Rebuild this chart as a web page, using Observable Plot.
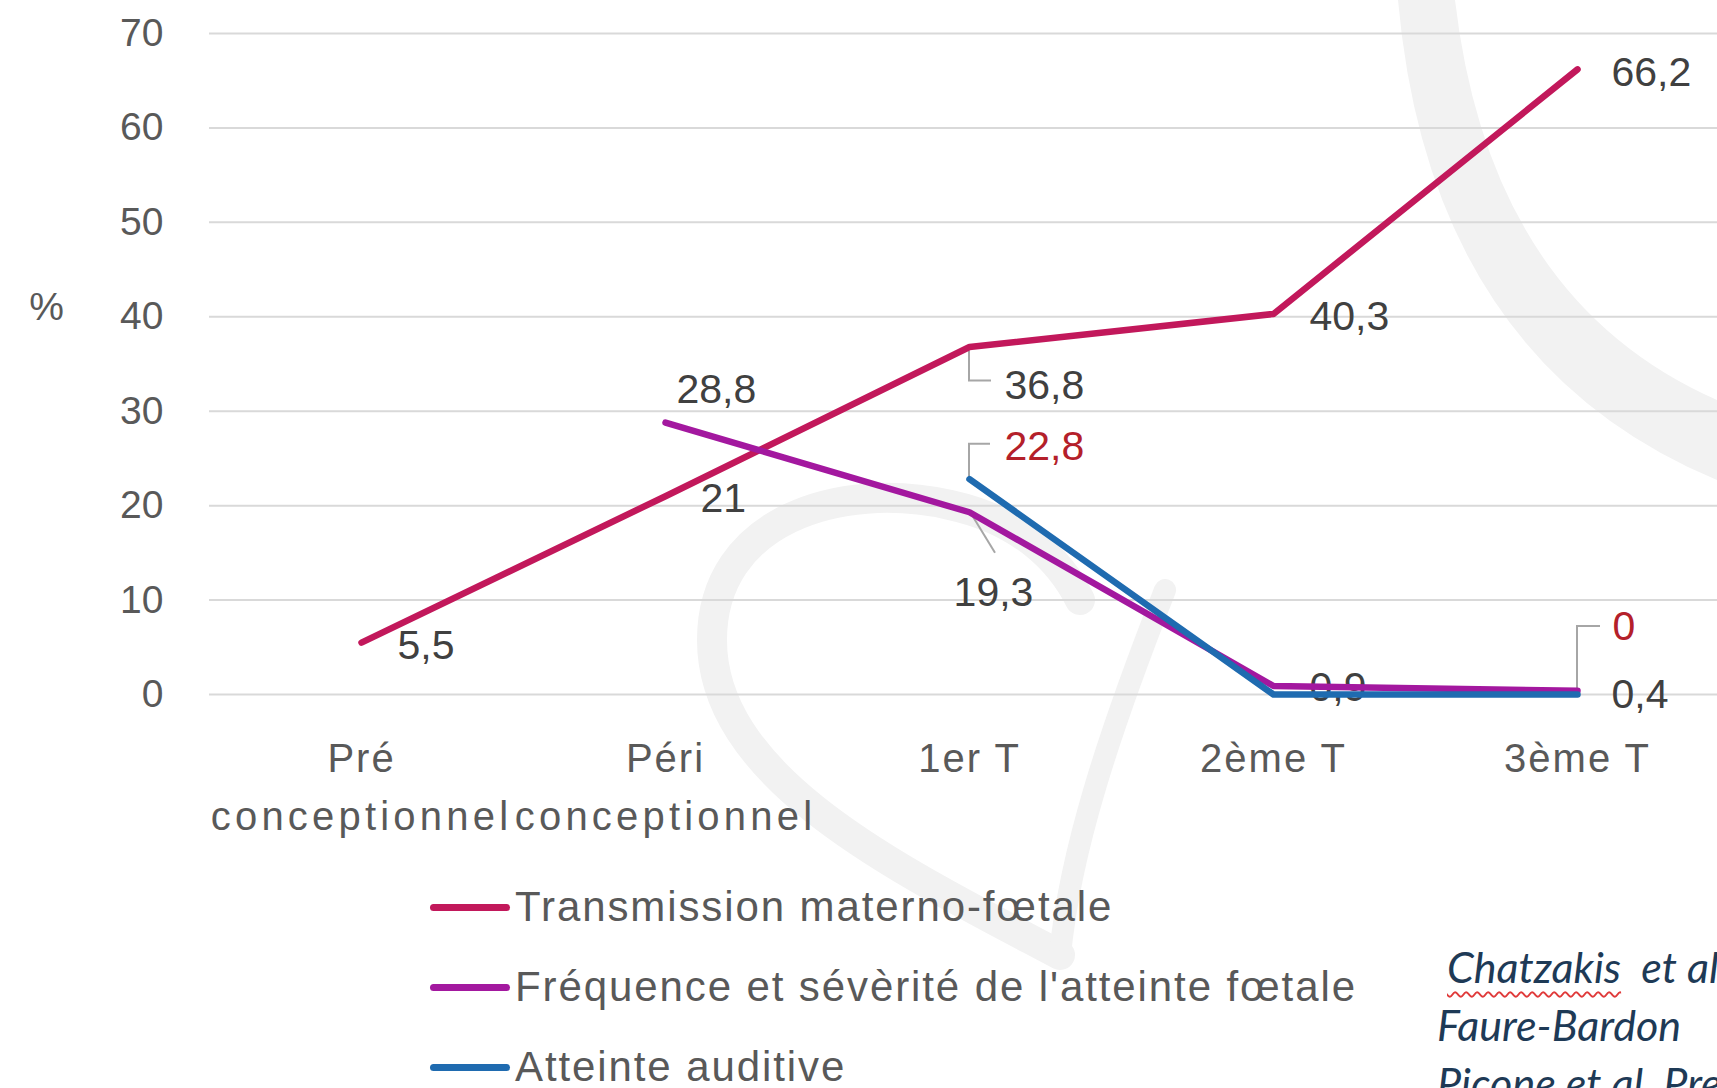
<!DOCTYPE html>
<html>
<head>
<meta charset="utf-8">
<script src="https://cdn.jsdelivr.net/npm/d3@7"></script>
<script src="https://cdn.jsdelivr.net/npm/@observablehq/plot@0.6"></script>
<style>
  html, body { margin: 0; padding: 0; background: #ffffff; overflow: hidden; }
  #page { position: relative; width: 1717px; height: 1088px; overflow: hidden; font-family: "Liberation Sans", Arial, sans-serif; background: #fff; }
  #wm { position: absolute; left: 0; top: 0; z-index: 0; }
  #chart { position: relative; z-index: 1; width: 1729px; }
  #legend { position: relative; z-index: 1; margin-left: 430px; margin-top: -3px; }
  .row { display: flex; align-items: center; height: 80px; font-size: 42px; letter-spacing: 1.9px; color: #595959; white-space: nowrap; }
  .sw { width: 80px; height: 7px; border-radius: 3.5px; margin-right: 5px; flex: none; }
  #cite { position: absolute; left: 1437px; top: 938px; z-index: 2; font-family: Lato, "Open Sans", sans-serif; font-style: italic; font-size: 43px; line-height: 58px; color: #1E3A56; white-space: nowrap; }
  #cite .wavy { text-decoration: underline wavy #e03a3a; text-decoration-thickness: 2px; text-underline-offset: 8px; }
</style>
</head>
<body>
<div id="page">
  <svg id="wm" width="1717" height="1088" viewBox="0 0 1717 1088">
    <path d="M1060 955 C 900 870, 712 780, 712 640 C 712 520, 840 480, 950 505 C 1020 520, 1060 560, 1080 600" fill="none" stroke="#f2f2f2" stroke-width="30" stroke-linecap="round"/>
    <path d="M1060 955 C 1070 850, 1110 730, 1165 590" fill="none" stroke="#f2f2f2" stroke-width="22" stroke-linecap="round"/>
    <path d="M1398 0 Q 1430 360 1717 480 L 1717 400 Q 1490 300 1455 0 Z" fill="#f2f2f2"/>
  </svg>
  <div id="chart"></div>
  <div id="legend"></div>
  <div id="cite">
    <div style="padding-left:10px"><span class="wavy">Chatzakis</span>&nbsp; et al.</div>
    <div>Faure-Bardon</div>
    <div>Picone et al. Prenat</div>
  </div>
</div>
<script>
// ---- data ----
const categories = ["Pré\nconceptionnel", "Péri\nconceptionnel", "1er T", "2ème T", "3ème T"];
const seriesNames = ["Transmission materno-fœtale", "Fréquence et sévèrité de l'atteinte fœtale", "Atteinte auditive"];
const transmission = [5.5, 21, 36.8, 40.3, 66.2];
const frequence = [null, 28.8, 19.3, 0.9, 0.4];
const auditive = [null, null, 22.8, 0, 0];
const yTicks = [0, 10, 20, 30, 40, 50, 60, 70];

// ---- styles ----
const seriesColors = ["#C2185B", "#A3189F", "#1F6BB0"];
const labelColors = ["#404040", "#404040", "#B4202A"];
const labelPlacement = {
  "0-0": {dx: 36, dy: 3},
  "0-1": {dx: 35, dy: 3},
  "0-2": {dx: 35, dy: 39, leader: [[0, 4], [0, 34], [22, 34]]},
  "0-3": {dx: 36, dy: 3},
  "0-4": {dx: 34, dy: 3},
  "1-1": {dx: 11, dy: -33},
  "1-2": {dx: 24, dy: 81, anchor: "middle", leader: [[4, 5], [26, 41]]},
  "1-3": {dx: 36, dy: 2},
  "1-4": {dx: 34, dy: 4},
  "2-2": {dx: 35, dy: -32, leader: [[0, -2], [0, -35], [21, -35]]},
  "2-4": {dx: 35, dy: -68, leader: [[0, -4], [0, -68], [23, -68]]}
};

const seriesValues = [transmission, frequence, auditive];
const rows = seriesValues.flatMap((vals, s) =>
  vals.map((v, i) => ({series: seriesNames[s], s, i, cat: categories[i], value: v})));
const key = r => `${r.s}-${r.i}`;
const fmt = v => String(v).replace(".", ",");

const labelled = rows.filter(r => r.value != null && labelPlacement[key(r)]);
const labelMarks = labelled.map(r => {
  const p = labelPlacement[key(r)];
  return Plot.text([r], {
    x: "cat", y: "value", text: d => fmt(d.value),
    dx: p.dx, dy: p.dy, textAnchor: p.anchor || "start",
    fill: labelColors[r.s], fontSize: 41
  });
});

const leaderRows = labelled.filter(r => labelPlacement[key(r)].leader);
const leaderMark = Plot.dot(leaderRows, {
  x: "cat", y: "value", r: 1,
  render(index, scales, values) {
    const g = d3.create("svg:g");
    for (const i of index) {
      const pts = labelPlacement[key(leaderRows[i])].leader;
      const x0 = values.x[i], y0 = values.y[i];
      g.append("path")
        .attr("d", d3.line()(pts.map(([ddx, ddy]) => [x0 + ddx, y0 + ddy])))
        .attr("fill", "none").attr("stroke", "#a6a6a6").attr("stroke-width", 2);
    }
    return g.node();
  }
});

const chart = Plot.plot({
  width: 1729, height: 870,
  marginLeft: 209, marginRight: 0, marginTop: 33, marginBottom: 176,
  x: {type: "point", domain: categories, padding: 0.5, axis: null},
  y: {domain: [0, 70], axis: null},
  color: {domain: seriesNames, range: seriesColors},
  style: {fontFamily: "'Liberation Sans', Arial, sans-serif", background: "transparent", overflow: "visible", maxWidth: "none"},
  marks: [
    Plot.ruleY(yTicks, {stroke: "#d9d9d9", strokeWidth: 2}),
    ...labelMarks,
    leaderMark,
    Plot.line(rows, {x: "cat", y: "value", z: "series", stroke: "series", strokeWidth: 6.5, strokeLinejoin: "round", strokeLinecap: "round"}),
    Plot.axisY(yTicks, {tickSize: 0, tickPadding: 46, fontSize: 39, fill: "#595959", label: null}),
    Plot.axisX({tickSize: 0, tickPadding: 36, fontSize: 40, lineHeight: 1.45, fill: "#595959", label: null}),
    Plot.text(["%"], {frameAnchor: "left", dx: -163, dy: -56, textAnchor: "middle", fontSize: 39, fill: "#595959"})
  ]
});
const xLabels = d3.select(chart).selectAll('g[aria-label="x-axis tick label"] text');
xLabels.style("letter-spacing", "2px");
xLabels.selectAll("tspan").filter(function () { return this.textContent === "conceptionnel"; }).style("letter-spacing", "4.2px");
document.getElementById("chart").appendChild(chart);

const legend = document.getElementById("legend");
seriesNames.forEach((name, s) => {
  const row = document.createElement("div");
  row.className = "row";
  const sw = document.createElement("span");
  sw.className = "sw";
  sw.style.background = seriesColors[s];
  const t = document.createElement("span");
  t.textContent = name;
  row.appendChild(sw);
  row.appendChild(t);
  legend.appendChild(row);
});
</script>
</body>
</html>
